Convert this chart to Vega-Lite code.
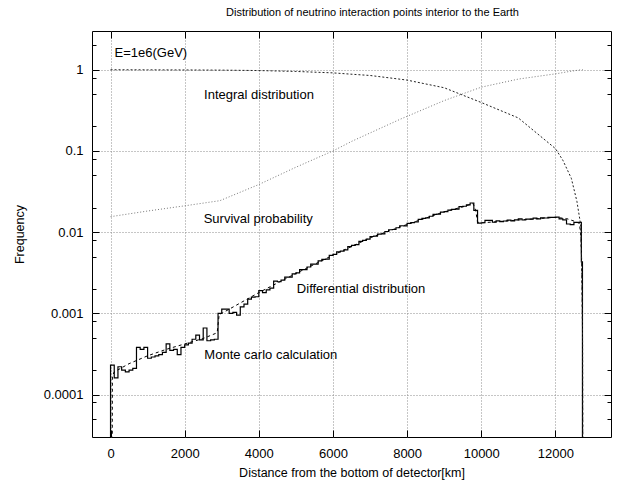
{
  "$schema": "https://vega.github.io/schema/vega-lite/v6.json",
  "width": 519,
  "height": 406,
  "autosize": {"type": "none"},
  "padding": {"left": 92, "top": 31, "right": 8, "bottom": 49},
  "background": "#ffffff",
  "title": {"text": "Distribution of neutrino interaction points interior to the Earth", "fontSize": 11, "fontWeight": "normal", "font": "Liberation Sans", "color": "#000000", "offset": 2, "dx": 21, "baseline": "bottom"},
  "config": {
    "view": {"stroke": "#000000", "strokeWidth": 1},
    "axis": {"domain": false, "labelFont": "Liberation Sans", "labelFontSize": 13, "labelColor": "#000000", "titleFont": "Liberation Sans", "titleFontSize": 12.5, "titleFontWeight": "normal", "titleColor": "#000000", "tickColor": "#000000", "gridColor": "#8c8c8c", "gridDash": [1, 2], "gridWidth": 1, "labelFlush": false, "labelOverlap": false}
  },
  "datasets": {
    "hist": [
      {"x": -1, "y": 0.00001}, {"x": 0, "y": 0.00023}, {"x": 100, "y": 0.00016}, {"x": 200, "y": 0.00022}, {"x": 300, "y": 0.0002}, {"x": 400, "y": 0.00019}, {"x": 500, "y": 0.0002}, {"x": 600, "y": 0.00021}, {"x": 700, "y": 0.00038}, {"x": 800, "y": 0.00036}, {"x": 900, "y": 0.00038},
      {"x": 1000, "y": 0.00028}, {"x": 1100, "y": 0.00029}, {"x": 1200, "y": 0.0003}, {"x": 1300, "y": 0.00031}, {"x": 1400, "y": 0.00033}, {"x": 1500, "y": 0.00042}, {"x": 1600, "y": 0.00035}, {"x": 1700, "y": 0.00036}, {"x": 1800, "y": 0.00031}, {"x": 1900, "y": 0.00038},
      {"x": 2000, "y": 0.00041}, {"x": 2100, "y": 0.00043}, {"x": 2200, "y": 0.00048}, {"x": 2300, "y": 0.00054}, {"x": 2400, "y": 0.00047}, {"x": 2500, "y": 0.00066}, {"x": 2600, "y": 0.00046}, {"x": 2700, "y": 0.00047}, {"x": 2800, "y": 0.00048}, {"x": 2900, "y": 0.001},
      {"x": 3000, "y": 0.00113}, {"x": 3100, "y": 0.00113}, {"x": 3200, "y": 0.001}, {"x": 3300, "y": 0.00103}, {"x": 3400, "y": 0.00095}, {"x": 3500, "y": 0.0012}, {"x": 3600, "y": 0.0013}, {"x": 3700, "y": 0.0015}, {"x": 3800, "y": 0.00158}, {"x": 3900, "y": 0.0016},
      {"x": 4000, "y": 0.0019}, {"x": 4100, "y": 0.0018}, {"x": 4200, "y": 0.00195}, {"x": 4300, "y": 0.00205}, {"x": 4400, "y": 0.0025}, {"x": 4500, "y": 0.00245}, {"x": 4600, "y": 0.00256}, {"x": 4700, "y": 0.00279}, {"x": 4800, "y": 0.0028}, {"x": 4900, "y": 0.00307},
      {"x": 5000, "y": 0.00315}, {"x": 5100, "y": 0.00345}, {"x": 5200, "y": 0.00345}, {"x": 5300, "y": 0.00372}, {"x": 5400, "y": 0.00403}, {"x": 5500, "y": 0.00404}, {"x": 5600, "y": 0.00442}, {"x": 5700, "y": 0.00462}, {"x": 5800, "y": 0.00466}, {"x": 5900, "y": 0.00517},
      {"x": 6000, "y": 0.00533}, {"x": 6100, "y": 0.00571}, {"x": 6200, "y": 0.00583}, {"x": 6300, "y": 0.00606}, {"x": 6400, "y": 0.00662}, {"x": 6500, "y": 0.00689}, {"x": 6600, "y": 0.00702}, {"x": 6700, "y": 0.00768}, {"x": 6800, "y": 0.00791}, {"x": 6900, "y": 0.00822},
      {"x": 7000, "y": 0.00884}, {"x": 7100, "y": 0.00893}, {"x": 7200, "y": 0.00945}, {"x": 7300, "y": 0.00953}, {"x": 7400, "y": 0.01019}, {"x": 7500, "y": 0.0107}, {"x": 7600, "y": 0.01078}, {"x": 7700, "y": 0.01132}, {"x": 7800, "y": 0.01198}, {"x": 7900, "y": 0.01197},
      {"x": 8000, "y": 0.0128}, {"x": 8100, "y": 0.01312}, {"x": 8200, "y": 0.01334}, {"x": 8300, "y": 0.01437}, {"x": 8400, "y": 0.01477}, {"x": 8500, "y": 0.01498}, {"x": 8600, "y": 0.0157}, {"x": 8700, "y": 0.01658}, {"x": 8800, "y": 0.0167}, {"x": 8900, "y": 0.01763},
      {"x": 9000, "y": 0.01785}, {"x": 9100, "y": 0.01872}, {"x": 9200, "y": 0.0191}, {"x": 9300, "y": 0.01924}, {"x": 9400, "y": 0.02063}, {"x": 9500, "y": 0.02085}, {"x": 9600, "y": 0.02169}, {"x": 9700, "y": 0.02285}, {"x": 9800, "y": 0.0185}, {"x": 9900, "y": 0.0129},
      {"x": 10000, "y": 0.01306}, {"x": 10100, "y": 0.01394}, {"x": 10200, "y": 0.01393}, {"x": 10300, "y": 0.01324}, {"x": 10400, "y": 0.01376}, {"x": 10500, "y": 0.01344}, {"x": 10600, "y": 0.01371}, {"x": 10700, "y": 0.01408}, {"x": 10800, "y": 0.01376}, {"x": 10900, "y": 0.01417},
      {"x": 11000, "y": 0.01455}, {"x": 11100, "y": 0.01412}, {"x": 11200, "y": 0.0145}, {"x": 11300, "y": 0.01445}, {"x": 11400, "y": 0.01488}, {"x": 11500, "y": 0.01454}, {"x": 11600, "y": 0.01498}, {"x": 11700, "y": 0.01493}, {"x": 11800, "y": 0.01518}, {"x": 11900, "y": 0.01517},
      {"x": 12000, "y": 0.0153}, {"x": 12100, "y": 0.0146}, {"x": 12200, "y": 0.0142}, {"x": 12300, "y": 0.0126}, {"x": 12400, "y": 0.0124}, {"x": 12500, "y": 0.0132}, {"x": 12600, "y": 0.0132}, {"x": 12700, "y": 0.0043}, {"x": 12730, "y": 0.00001}
    ],
    "model": [
      {"x": 45, "y": 0.00001}, {"x": 50, "y": 0.00017}, {"x": 100, "y": 0.00019}, {"x": 500, "y": 0.00024}, {"x": 1000, "y": 0.0003}, {"x": 1500, "y": 0.00036}, {"x": 2000, "y": 0.00042}, {"x": 2500, "y": 0.00049}, {"x": 2850, "y": 0.00057}, {"x": 2880, "y": 0.0006}, {"x": 2930, "y": 0.00096},
      {"x": 3000, "y": 0.001}, {"x": 4000, "y": 0.0018}, {"x": 5000, "y": 0.0031}, {"x": 6000, "y": 0.0052}, {"x": 7000, "y": 0.0085}, {"x": 8000, "y": 0.01245}, {"x": 9000, "y": 0.0178}, {"x": 9500, "y": 0.0205}, {"x": 9780, "y": 0.0225}, {"x": 9850, "y": 0.0185}, {"x": 9900, "y": 0.0133},
      {"x": 10000, "y": 0.013}, {"x": 11000, "y": 0.0141}, {"x": 12000, "y": 0.0152}, {"x": 12300, "y": 0.0147}, {"x": 12500, "y": 0.0137}, {"x": 12650, "y": 0.0128}, {"x": 12690, "y": 0.0085}, {"x": 12710, "y": 0.0043}, {"x": 12730, "y": 0.0008}, {"x": 12740, "y": 0.00001}
    ],
    "integral": [
      {"x": 0, "y": 1.0}, {"x": 1000, "y": 0.997}, {"x": 2000, "y": 0.994}, {"x": 3000, "y": 0.989}, {"x": 4000, "y": 0.977}, {"x": 5000, "y": 0.953}, {"x": 6000, "y": 0.915}, {"x": 6516, "y": 0.88}, {"x": 7000, "y": 0.85}, {"x": 7808, "y": 0.765}, {"x": 8000, "y": 0.745},
      {"x": 9000, "y": 0.6}, {"x": 10000, "y": 0.395}, {"x": 11000, "y": 0.255}, {"x": 12000, "y": 0.107}, {"x": 12200, "y": 0.077}, {"x": 12430, "y": 0.046}, {"x": 12580, "y": 0.024}, {"x": 12680, "y": 0.0125}, {"x": 12700, "y": 0.006}, {"x": 12720, "y": 0.002}, {"x": 12735, "y": 0.0004}, {"x": 12740, "y": 0.00001}
    ],
    "survival": [
      {"x": 0, "y": 0.0155}, {"x": 1000, "y": 0.0182}, {"x": 2000, "y": 0.0211}, {"x": 2950, "y": 0.0244}, {"x": 4000, "y": 0.0386}, {"x": 5000, "y": 0.063}, {"x": 6000, "y": 0.1}, {"x": 6516, "y": 0.132}, {"x": 7808, "y": 0.245},
      {"x": 9000, "y": 0.417}, {"x": 10000, "y": 0.61}, {"x": 11000, "y": 0.767}, {"x": 12000, "y": 0.89}, {"x": 12400, "y": 0.955}, {"x": 12700, "y": 1.0}, {"x": 12740, "y": 1.0}
    ],
    "labels": [
      {"label": "E=1e6(GeV)", "x": 108, "y": 1.63},
      {"label": "Integral distribution", "x": 2523, "y": 0.493},
      {"label": "Survival probability", "x": 2513, "y": 0.0145},
      {"label": "Differential distribution", "x": 5026, "y": 0.00198},
      {"label": "Monte carlo calculation", "x": 2531, "y": 0.000309}
    ]
  },
  "layer": [
    {
      "data": {"name": "hist"},
      "mark": {"type": "line", "interpolate": "step-after", "color": "#000000", "strokeWidth": 1.2, "clip": true},
      "encoding": {
        "x": {"field": "x", "type": "quantitative", "scale": {"domain": [-500, 13500], "nice": false, "zero": false},
          "axis": {"orient": "bottom", "values": [0, 2000, 4000, 6000, 8000, 10000, 12000], "format": "d", "grid": true, "tickSize": -7, "labelPadding": 17, "title": "Distance from the bottom of detector[km]", "titlePadding": 6}},
        "y": {"field": "y", "type": "quantitative", "scale": {"type": "log", "domain": [0.00003, 3], "nice": false},
          "axis": {"orient": "left", "values": [0.0001, 0.001, 0.01, 0.1, 1], "format": "~g", "grid": true, "tickSize": -7, "labelPadding": 16, "title": "Frequency", "titlePadding": 17}}
      }
    },
    {
      "data": {"name": "model"},
      "mark": {"type": "line", "color": "#000000", "strokeWidth": 1, "strokeDash": [3, 3], "clip": true},
      "encoding": {
        "x": {"field": "x", "type": "quantitative", "axis": {"orient": "top", "values": [0, 2000, 4000, 6000, 8000, 10000, 12000], "labels": false, "grid": false, "tickSize": -7, "title": null}},
        "y": {"field": "y", "type": "quantitative", "axis": {"orient": "right", "values": [0.0001, 0.001, 0.01, 0.1, 1], "labels": false, "grid": false, "tickSize": -7, "title": null}}
      }
    },
    {
      "data": {"name": "integral"},
      "mark": {"type": "line", "color": "#222222", "strokeWidth": 1, "strokeDash": [2, 2], "clip": true},
      "encoding": {
        "x": {"field": "x", "type": "quantitative", "axis": null},
        "y": {"field": "y", "type": "quantitative", "axis": {"orient": "left", "values": [0.00005, 0.00008, 0.0002, 0.0005, 0.0008, 0.002, 0.005, 0.008, 0.02, 0.05, 0.08, 0.2, 0.5, 0.8, 2], "labels": false, "grid": false, "tickSize": -4, "title": null}}
      }
    },
    {
      "data": {"name": "survival"},
      "mark": {"type": "line", "color": "#777777", "strokeWidth": 1, "strokeDash": [1, 2], "clip": true},
      "encoding": {
        "x": {"field": "x", "type": "quantitative", "axis": null},
        "y": {"field": "y", "type": "quantitative", "axis": {"orient": "right", "values": [0.00005, 0.00008, 0.0002, 0.0005, 0.0008, 0.002, 0.005, 0.008, 0.02, 0.05, 0.08, 0.2, 0.5, 0.8, 2], "labels": false, "grid": false, "tickSize": -4, "title": null}}
      }
    },
    {
      "data": {"name": "labels"},
      "mark": {"type": "text", "align": "left", "baseline": "middle", "font": "Liberation Sans", "fontSize": 13, "color": "#000000"},
      "encoding": {
        "x": {"field": "x", "type": "quantitative", "axis": null},
        "y": {"field": "y", "type": "quantitative", "axis": null},
        "text": {"field": "label", "type": "nominal"}
      }
    }
  ],
  "resolve": {"scale": {"x": "shared", "y": "shared"}, "axis": {"x": "independent", "y": "independent"}}
}
